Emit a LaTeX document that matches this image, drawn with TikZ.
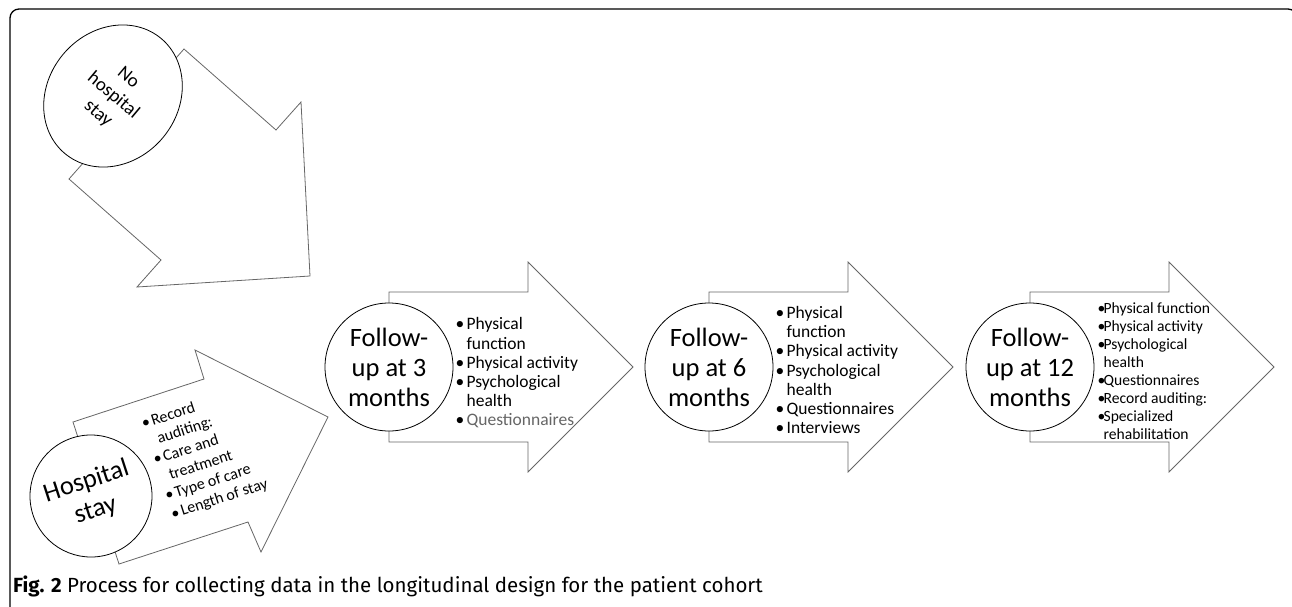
\documentclass[tikz,border=0pt]{standalone}
\usepackage{fontspec}
\setmainfont{Carlito}
\newfontfamily\capfont{Fira Sans}
\usepackage{tikz}
\usetikzlibrary{shapes.geometric,positioning,backgrounds}
\tikzstyle{arrowShape} = [
  draw=black!60,
  fill=white,
  line width=0.8pt,
  line join=miter]
\tikzstyle{stageCircle} = [
  circle,
  draw,
  fill=white,
  line width=0.8pt,
  minimum size=128pt,
  inner sep=0pt,
  align=center,
  font=\fontsize{26.5}{30}\selectfont]
\tikzstyle{itemText} = [
  inner sep=0pt,
  align=left,
  font=\fontsize{17.5}{19.2}\selectfont]
\newcommand{\itm}[2][10pt]{\makebox[#1][l]{\textbullet}#2}
\newcommand{\cnt}[2][10pt]{\hspace*{#1}#2}

\begin{document}
\begin{tikzpicture}[x=1pt,y=-1pt]
  \useasboundingbox (0,0) rectangle (1292,607);
  \draw[line width=1.3pt, rounded corners=9pt] (10,630) -- (10,9) -- (1297,9) -- (1297,630);

  \node[stageCircle, ellipse, minimum width=130pt, minimum height=150pt, rotate=-40,
    font=\fontsize{19}{23.4}\selectfont] (nohosp) at (113,96) {No\\hospital\\stay};
  \node[stageCircle, minimum size=122pt, rotate=18] (hosp) at (91,496) {Hospital\\stay};
  \foreach \m/\x in {3/389, 6/709, 12/1030}
    \node[stageCircle] (fu\m) at (\x,367) {Follow-\\up at \m\\months};

  \node[itemText, anchor=north west, rotate=18, font=\fontsize{16}{19}\selectfont]
    (list0) at (140,418) {
    \itm{Record}\\ \cnt{auditing:}\\ \itm{Care and}\\ \cnt{treatment}\\
    \itm{Type of care}\\ \itm{Length of stay}};
  \node[itemText, right=2pt of fu3, yshift=-6pt] (list3) {
    \itm[11pt]{Physical}\\ \cnt[11pt]{function}\\ \itm[11pt]{Physical activity}\\
    \itm[11pt]{Psychological}\\ \cnt[11pt]{health}\\ \itm[11pt]{\color{black!60}Questionnaires}};
  \node[itemText, right=2pt of fu6, yshift=-3pt] (list6) {
    \itm[11pt]{Physical}\\ \cnt[11pt]{function}\\ \itm[11pt]{Physical activity}\\
    \itm[11pt]{Psychological}\\ \cnt[11pt]{health}\\ \itm[11pt]{Questionnaires}\\ \itm[11pt]{Interviews}};
  \node[itemText, right=3pt of fu12, yshift=-4pt, font=\fontsize{15.6}{17.9}\selectfont] (list12) {
    \itm[6pt]{Physical function}\\ \itm[6pt]{Physical activity}\\
    \itm[6pt]{Psychological}\\ \cnt[6pt]{health}\\ \itm[6pt]{Questionnaires}\\
    \itm[6pt]{Record auditing:}\\ \itm[6pt]{Specialized}\\ \cnt[6pt]{rehabilitation}};

  \begin{scope}[on background layer]
    \draw[arrowShape, shift={(nohosp.center)}] (71,-47) -- (163,34) -- (188,6) -- (197,180)
      -- (24,191) -- (48,164) -- (-44,83) -- cycle;
    \draw[arrowShape, shift={(hosp.center)}] (-18,-74) -- (113,-117) -- (104,-146) -- (237,-79)
      -- (170,56) -- (157,26) -- (28,68) -- cycle;
    \foreach \m in {3,6,12}
      \draw[arrowShape, shift={(fu\m.center)}] (0,-75) -- (139,-75) -- (139,-105) -- (244,0)
        -- (139,105) -- (139,75) -- (0,75) -- cycle;
  \end{scope}

  \node[anchor=west, inner sep=0pt] (caption) at (13,586)
    {\capfont\fontsize{20.5}{24}\selectfont\textbf{Fig. 2} Process for collecting data in the longitudinal design for the patient cohort};
\end{tikzpicture}
\end{document}
